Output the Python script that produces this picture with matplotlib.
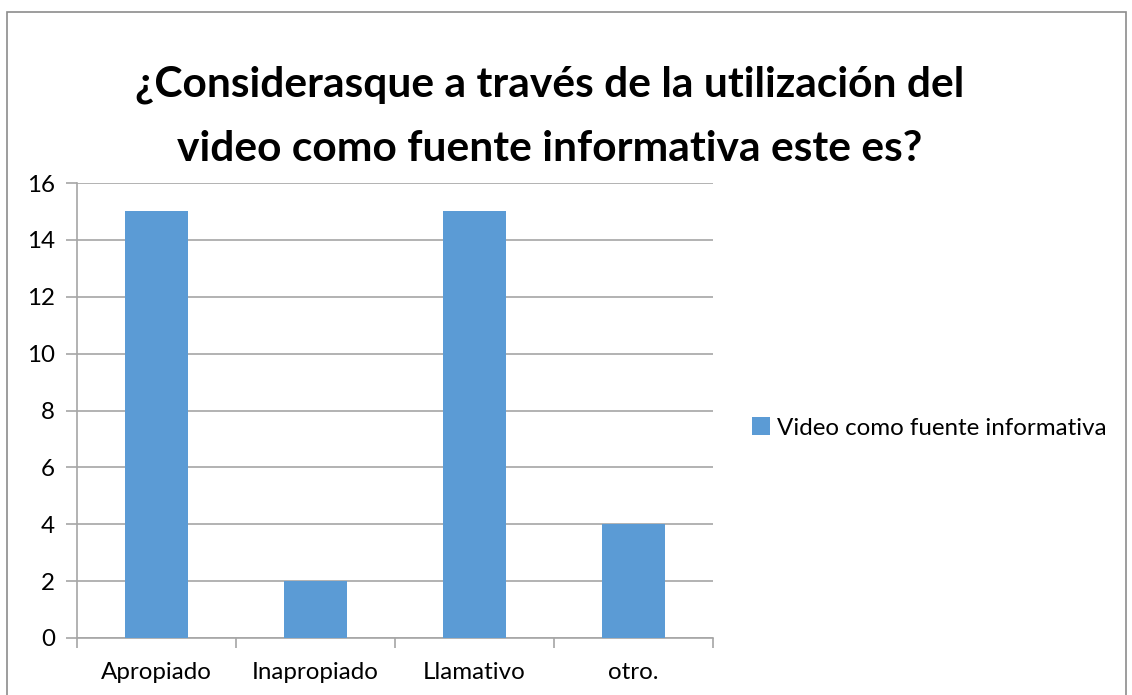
import matplotlib.pyplot as plt
from matplotlib.patches import Rectangle
import numpy as np

plt.rcParams['font.family'] = ['Lato', 'DejaVu Sans']

categorias = ['Apropiado', 'Inapropiado', 'Llamativo', 'otro.']
valores = [15, 2, 15, 4]
serie = 'Video como fuente informativa'
titulo = '¿Considerasque a través de la utilización del\nvideo como fuente informativa este es?'

W, H = 1132, 695
fig = plt.figure(figsize=(W / 100, H / 100), dpi=100)

# marco del gráfico
fig.patches.append(Rectangle((7 / W, -0.05), (1126 - 7) / W, 1.05 - 12 / H,
                             transform=fig.transFigure, fill=False,
                             edgecolor='#8c8c8c', linewidth=1.2))

ax = fig.add_axes([77 / W, 1 - 638 / H, (713 - 77) / W, (638 - 183) / H])

x = np.arange(len(categorias))
barras = ax.bar(x, valores, width=0.4, color='#5B9BD5', label=serie, zorder=3)

ax.set_xlim(-0.5, len(categorias) - 0.5)
ax.set_ylim(0, 16)
ax.set_yticks(range(0, 17, 2))
ax.yaxis.grid(True, color='#a6a6a6', linewidth=1.2, zorder=0)

ax.set_xticks(x)
ax.set_xticklabels(categorias, fontsize=17.4)
ax.tick_params(axis='x', length=0, pad=17)
ax.set_xticks(np.arange(len(categorias) + 1) - 0.5, minor=True)
ax.tick_params(axis='x', which='minor', length=7, color='#a6a6a6', width=1.2)
ax.tick_params(axis='y', length=8, color='#a6a6a6', width=1.2, labelsize=17.4, pad=8)

for s in ['top', 'right']:
    ax.spines[s].set_visible(False)
for s in ['left', 'bottom']:
    ax.spines[s].set_color('#a6a6a6')
    ax.spines[s].set_linewidth(1.2)

fig.text(550 / W, 1 - 117 / H, titulo, ha='center', va='center',
         fontsize=30.6, fontweight='bold', linespacing=1.85)

fig.legend(handles=[barras], labels=[serie], loc='center left',
           bbox_to_anchor=(730 / W, 1 - 428 / H), frameon=False,
           fontsize=17.4, handlelength=0.75, handleheight=0.75, handletextpad=0.3)

fig.savefig('out.png', dpi=100)
